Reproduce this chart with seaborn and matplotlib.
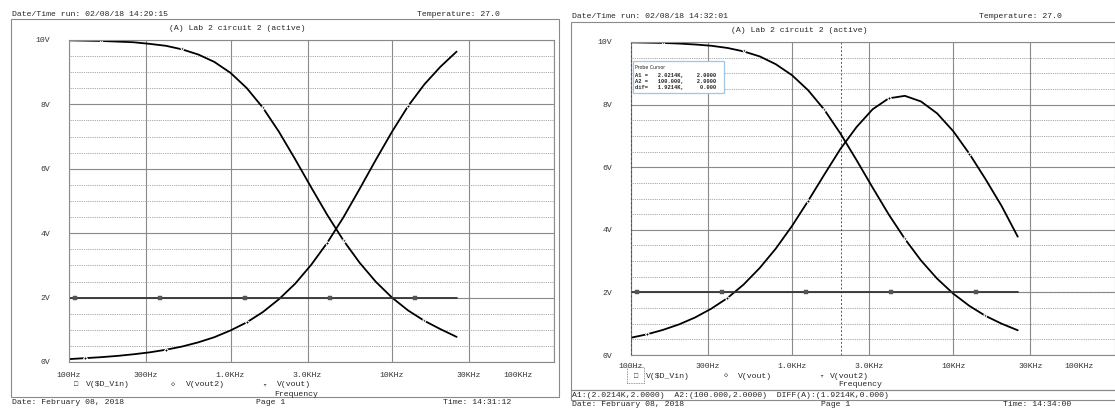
import matplotlib

matplotlib.use("Agg")

import matplotlib.pyplot as plt
import pandas as pd
import seaborn as sns
from matplotlib.patches import Rectangle
from matplotlib.transforms import ScaledTranslation

W, H = 1115, 408

# sweep points (Hz) at 1/10 decade steps
freq_hz = [100, 126, 158, 200, 251, 316, 398, 501, 631, 794, 1000, 1259, 1585,
           1995, 2512, 3162, 3981, 5012, 6310, 7943, 10000, 12589, 15849, 19953, 25119]

# left plot (14:29:15)
left_vout = [9.99, 9.98, 9.97, 9.95, 9.93, 9.88, 9.82, 9.71, 9.55, 9.32, 8.98, 8.51, 7.90,
             7.15, 6.30, 5.42, 4.56, 3.77, 3.08, 2.49, 2.00, 1.60, 1.28, 1.02, 0.78]
left_vout2 = [0.09, 0.12, 0.15, 0.19, 0.24, 0.30, 0.38, 0.48, 0.61, 0.77, 0.98, 1.23, 1.55,
              1.95, 2.43, 3.02, 3.71, 4.50, 5.38, 6.28, 7.15, 7.95, 8.62, 9.17, 9.64]

# right plot (14:32:01)
right_low = [9.99, 9.98, 9.97, 9.95, 9.92, 9.88, 9.81, 9.70, 9.54, 9.29, 8.94, 8.46, 7.84,
             7.08, 6.23, 5.35, 4.49, 3.71, 3.02, 2.44, 1.96, 1.57, 1.25, 1.00, 0.79]
right_band = [0.55, 0.66, 0.80, 0.98, 1.20, 1.48, 1.82, 2.25, 2.78, 3.40, 4.12, 4.92, 5.76,
              6.58, 7.28, 7.85, 8.20, 8.28, 8.10, 7.72, 7.15, 6.43, 5.62, 4.76, 3.78]

vin_freq_hz = [100, 25119]
vin_volts = [2.0, 2.0]
vin_marker_hz = [109, 366, 1230, 4140, 13900]
cursor_a1_hz = 2021.4

x_ticks = [100, 300, 1000, 3000, 10000, 30000, 100000]
x_labels = ["100Hz", "300Hz", "1.0KHz", "3.0KHz", "10KHz", "30KHz", "100KHz"]
y_ticks = [0, 2, 4, 6, 8, 10]
y_labels = ["0V", "2V", "4V", "6V", "8V", "10V"]
y_minor = [0.5, 1.0, 1.5, 2.5, 3.0, 3.5, 4.5, 5.0, 5.5, 6.5, 7.0, 7.5, 8.5, 9.0, 9.5]

sns.set_style("white")
MONO = ["Liberation Mono", "DejaVu Sans Mono", "DejaVu Sans"]
plt.rcParams["font.family"] = MONO
FS = 5.9
GRID = "#8a8a8a"

fig = plt.figure(figsize=(W / 100, H / 100), dpi=100)


def box(x0, y0, x1, y1):
    return [x0 / W, 1 - y1 / H, (x1 - x0) / W, (y1 - y0) / H]


def ftext(x, y, s, **kw):
    kw.setdefault("fontsize", FS)
    kw.setdefault("va", "center")
    fig.text(x / W, 1 - y / H, s, **kw)


def frame(x0, y0, x1, y1, **kw):
    kw.setdefault("ec", GRID)
    kw.setdefault("lw", 0.8)
    fig.patches.append(Rectangle((x0 / W, 1 - y1 / H), (x1 - x0) / W, (y1 - y0) / H,
                                 transform=fig.transFigure, fill=False, **kw))


def style_axes(ax, label_pad):
    ax.set_xscale("log")
    ax.set_xlim(100, 100000)
    ax.set_ylim(0, 10)
    ax.set_xticks(x_ticks)
    ax.set_xticklabels(x_labels)
    ax.set_xticks([], minor=True)
    ax.set_yticks(y_ticks)
    ax.set_yticklabels(y_labels)
    ax.set_yticks(y_minor, minor=True)
    ax.grid(which="major", color=GRID, lw=0.8)
    ax.grid(which="minor", axis="y", color=GRID, lw=0.6, ls=(0, (1, 1.2)))
    ax.tick_params(which="major", direction="out", length=4.5, width=0.8, color=GRID,
                   labelsize=FS, colors="#333333")
    ax.tick_params(which="minor", length=0)
    ax.tick_params(axis="y", pad=9)
    ax.tick_params(axis="x", pad=label_pad)
    for s in ax.spines.values():
        s.set_color(GRID)
        s.set_linewidth(0.8)
    ax.set_xlabel("")
    ax.set_ylabel("")
    lbl = ax.get_xticklabels()[-1]
    lbl.set_transform(lbl.get_transform() + ScaledTranslation(-0.35, 0, fig.dpi_scale_trans))


def draw_curves(ax, falling, rising):
    df = pd.DataFrame({"freq": freq_hz, "falling": falling, "rising": rising})
    sns.lineplot(data=df, x="freq", y="falling", ax=ax, color="black", lw=1.3,
                 estimator=None, sort=False, marker="v", ms=2.5, markevery=[2, 7, 12, 17, 22])
    sns.lineplot(data=df, x="freq", y="rising", ax=ax, color="black", lw=1.3,
                 estimator=None, sort=False, marker="D", ms=2, markevery=[1, 6, 11, 16, 21])
    vin = pd.DataFrame({"freq": vin_freq_hz, "v": vin_volts})
    sns.lineplot(data=vin, x="freq", y="v", ax=ax, color="#333333", lw=1.3,
                 estimator=None, sort=False)
    mk = pd.DataFrame({"freq": vin_marker_hz, "v": [vin_volts[0]] * len(vin_marker_hz)})
    sns.scatterplot(data=mk, x="freq", y="v", ax=ax, marker="s", s=7, color="#555555",
                    edgecolor="#555555", linewidth=0.3, zorder=5)


# ---------------- left panel ----------------
frame(11, 19, 559, 397)
axl = fig.add_axes(box(69, 40, 553.5, 362))
draw_curves(axl, left_vout, left_vout2)
style_axes(axl, 3)

ftext(12, 15, "Date/Time run: 02/08/18 14:29:15")
ftext(417, 15, "Temperature: 27.0")
ftext(237, 29, "(A) Lab 2 circuit 2 (active)", ha="center")
ftext(76, 385, "\u25a1", ha="center", fontsize=5)
ftext(86, 385, "V($D_Vin)")
ftext(173, 385, "\u25c7", ha="center", fontsize=5)
ftext(186, 385, "V(vout2)")
ftext(264, 385, "\u25bf", ha="center", fontsize=5)
ftext(277, 385, "V(vout)")
ftext(296, 394, "Frequency", ha="center")
ftext(12, 403, "Date: February 08, 2018")
ftext(271, 403, "Page 1", ha="center")
ftext(443, 403, "Time: 14:31:12")

# ---------------- right panel ----------------
frame(571, 22, 1125, 390)
frame(571, 390, 1125, 400)
axr = fig.add_axes(box(630.7, 42, 1114.5, 355))
axr.axhline(vin_volts[0], color=GRID, lw=0.8, ls=(0, (2, 2)))
axr.axvline(cursor_a1_hz, color="#555555", lw=0.7, ls=(0, (2, 2)))
draw_curves(axr, right_low, right_band)
style_axes(axr, 1.5)
axr.spines["right"].set_visible(False)
axr.spines["left"].set_linestyle((0, (2, 2)))
axr.spines["left"].set_color("#555555")

ftext(572, 16, "Date/Time run: 02/08/18 14:32:01")
ftext(979, 16, "Temperature: 27.0")
ftext(799, 30, "(A) Lab 2 circuit 2 (active)", ha="center")
frame(627, 367, 644, 383, ls=(0, (1, 1)), ec="#777777", lw=0.6)
ftext(636, 376, "\u25a1", ha="center", fontsize=5)
ftext(646, 376, "V($D_Vin)")
ftext(726, 376, "\u25c7", ha="center", fontsize=5)
ftext(738, 376, "V(vout)")
ftext(821, 376, "\u25bf", ha="center", fontsize=5)
ftext(830, 376, "V(vout2)")
ftext(860, 385, "Frequency", ha="center")
ftext(572, 395.5, "A1:(2.0214K,2.0000)  A2:(100.000,2.0000)  DIFF(A):(1.9214K,0.000)")
ftext(572, 404, "Date: February 08, 2018")
ftext(836, 404, "Page 1", ha="center")
ftext(1003, 404, "Time: 14:34:00")

# probe cursor window
fig.patches.append(Rectangle((633 / W, 1 - 93 / H), 91 / W, 32 / H, transform=fig.transFigure,
                             fc="white", ec="#9fc5e8", lw=0.9, zorder=10))
fig.text(635 / W, 1 - 67.5 / H, "Probe Cursor", fontsize=3.4, family="DejaVu Sans",
         va="center", zorder=11)
for row_y, row in [(76, "A1 =   2.0214K,    2.0000"),
                   (82, "A2 =   100.000,    2.0000"),
                   (88, "dif=   1.9214K,     0.000")]:
    fig.text(635 / W, 1 - row_y / H, row, fontsize=3.9, fontweight="bold", va="center",
             zorder=11)

fig.savefig("out.png", dpi=100)
